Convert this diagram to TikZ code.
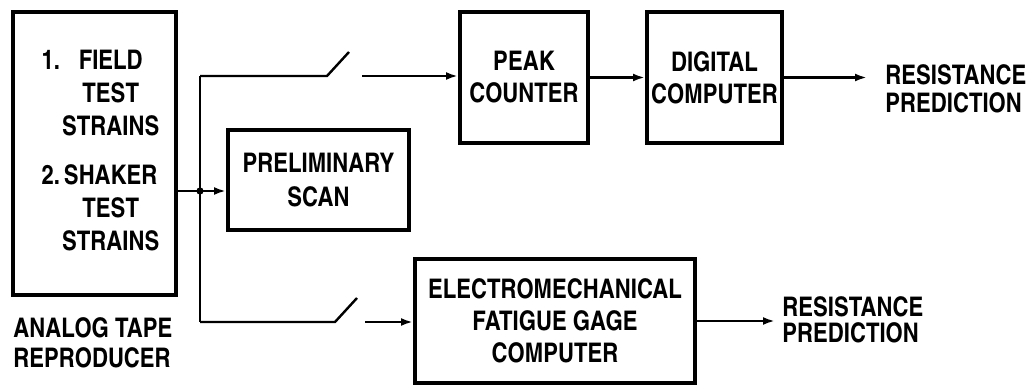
\documentclass[tikz,border=0pt]{standalone}
\usepackage{fontspec}
\setmainfont{TeX Gyre Heros Cn}
\usetikzlibrary{arrows.meta}

\begin{document}
\begin{tikzpicture}[x=0.5pt, y=-0.5pt,
  box/.style={draw, line width=2pt, align=center, inner sep=0pt, font=\bfseries\fontsize{13.5}{16}\selectfont},
  wire/.style={line width=1.2pt},
  feed/.style={wire, -{Latex[length=6pt, width=4pt]}},
  lbl/.style={align=left, inner sep=0pt, font=\bfseries\fontsize{13.5}{14}\selectfont}]
  \useasboundingbox (0,0) rectangle (1035,385);
  \node[box, minimum width=81.5pt, minimum height=141.5pt, font=\bfseries\fontsize{13.5}{16.5}\selectfont] (tape) at (94.5,153.5)
    {\hspace{6pt}\begin{tabular}{@{}l@{\hspace{1pt}}c@{}}1. & FIELD\\ & TEST\\ & STRAINS\\[8pt] 2. & SHAKER\\ & TEST\\ & STRAINS\end{tabular}};
  \node[lbl, font=\bfseries\fontsize{13.5}{15}\selectfont] (tapelbl) at (13,343) [anchor=west] {ANALOG TAPE\\REPRODUCER};
  \node[box, minimum width=90.5pt, minimum height=50pt, font=\bfseries\fontsize{13.5}{17}\selectfont] (scan) at (318.5,180) {PRELIMINARY\\SCAN};
  \node[box, minimum width=64pt, minimum height=65.5pt] (peak) at (524,77.5) {PEAK\\COUNTER};
  \node[box, minimum width=67.5pt, minimum height=65.5pt] (digital) at (714.5,77.5) {DIGITAL\\COMPUTER};
  \node[box, minimum width=140pt, minimum height=62pt] (fatigue) at (555,321) {ELECTROMECHANICAL\\FATIGUE GAGE\\COMPUTER};
  \node[lbl] (predtop) at (885,89) [anchor=west] {RESISTANCE\\PREDICTION};
  \node[lbl, font=\bfseries\fontsize{13.5}{13}\selectfont] (predbot) at (782,320) [anchor=west] {RESISTANCE\\PREDICTION};

  \coordinate (jct) at (200,191);
  \coordinate (topc) at (200,76);
  \coordinate (botc) at (200,322);
  \coordinate (swTa) at (327,76);
  \coordinate (swTb) at (349,52);
  \coordinate (swTc) at (362,76);
  \coordinate (swBa) at (335,322);
  \coordinate (swBb) at (357,298);
  \coordinate (swBc) at (365,322);
  \coordinate (outT) at (867,77.5);
  \coordinate (outB) at (775,321);

  \draw[wire] (tape.east |- jct) -- (jct);
  \draw[feed] (jct) -- (jct -| scan.west);
  \fill (jct) circle [radius=1.8pt];
  \draw[wire] (topc) -- (botc);
  \draw[wire] (topc) -- (swTa) -- (swTb);
  \draw[feed] (swTc) -- (swTc -| peak.west);
  \draw[feed] (peak) -- (digital);
  \draw[feed] (digital) -- (outT);
  \draw[wire] (botc) -- (swBa) -- (swBb);
  \draw[feed] (swBc) -- (swBc -| fatigue.west);
  \draw[feed] (fatigue) -- (outB);
\end{tikzpicture}
\end{document}
